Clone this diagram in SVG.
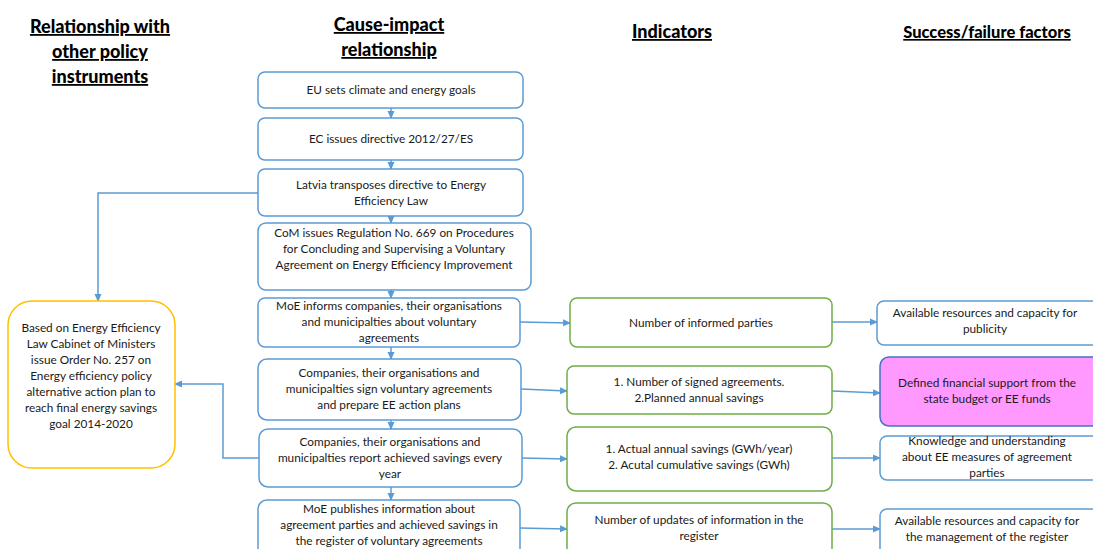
<svg xmlns="http://www.w3.org/2000/svg" width="1093" height="549" viewBox="0 0 1093 549">
  <style>
    .hd { font-family: Lato, "Liberation Sans", sans-serif; font-weight: 900; font-size: 18px; fill: #000; text-anchor: middle; text-decoration: underline; }
    .t { font-family: Lato, "Liberation Sans", sans-serif; font-size: 11.8px; fill: #1a1a1a; text-anchor: middle; }
    .b { fill: #fff; stroke: #5B9BD5; stroke-width: 1.5; }
    .g { fill: #fff; stroke: #70AD47; stroke-width: 1.5; }
    .o { fill: #fff; stroke: #FFC000; stroke-width: 1.5; }
    .p { fill: #FF99FF; stroke: #4472C4; stroke-width: 1.5; }
    .c { fill: none; stroke: #5B9BD5; stroke-width: 1.5; }
  </style>
  <defs>
    <marker id="ah" markerWidth="8" markerHeight="8" refX="7" refY="4" orient="auto" markerUnits="userSpaceOnUse">
      <path d="M0,0.5 L8,4 L0,7.5 Z" fill="#5B9BD5"/>
    </marker>
  </defs>
  <rect width="1093" height="549" fill="#fff"/>

  <!-- column headings -->
  <g id="headings">
    <text class="hd" x="100" y="33">Relationship with</text>
    <text class="hd" x="100" y="58">other policy</text>
    <text class="hd" x="100" y="83">instruments</text>
    <text class="hd" x="389" y="31">Cause-impact</text>
    <text class="hd" x="389" y="56">relationship</text>
    <text class="hd" x="672" y="38">Indicators</text>
    <text class="hd" x="987" y="38" style="font-size:16.5px">Success/failure factors</text>
  </g>

  <!-- connectors -->
  <g id="connectors">
    <line class="c" x1="391" y1="108" x2="391" y2="118" marker-end="url(#ah)"/>
    <line class="c" x1="391" y1="160" x2="391" y2="169" marker-end="url(#ah)"/>
    <line class="c" x1="391" y1="216" x2="391" y2="223" marker-end="url(#ah)"/>
    <line class="c" x1="391" y1="290" x2="391" y2="298" marker-end="url(#ah)"/>
    <line class="c" x1="391" y1="347" x2="391" y2="359" marker-end="url(#ah)"/>
    <line class="c" x1="391" y1="420" x2="391" y2="429" marker-end="url(#ah)"/>
    <line class="c" x1="391" y1="487" x2="391" y2="500" marker-end="url(#ah)"/>
    <polyline class="c" points="258,193 98,193 98,301" marker-end="url(#ah)"/>
    <polyline class="c" points="259,458 223,458 223,384 175,384" marker-end="url(#ah)"/>
    <line class="c" x1="520" y1="322" x2="570" y2="323" marker-end="url(#ah)"/>
    <line class="c" x1="521" y1="389" x2="567" y2="391" marker-end="url(#ah)"/>
    <line class="c" x1="522" y1="458" x2="567" y2="459" marker-end="url(#ah)"/>
    <line class="c" x1="520" y1="528" x2="567" y2="529" marker-end="url(#ah)"/>
    <line class="c" x1="832" y1="322" x2="877" y2="322" marker-end="url(#ah)"/>
    <line class="c" x1="832" y1="391" x2="880" y2="393" marker-end="url(#ah)"/>
    <line class="c" x1="832" y1="458" x2="880" y2="458" marker-end="url(#ah)"/>
    <line class="c" x1="832" y1="529" x2="880" y2="529" marker-end="url(#ah)"/>
  </g>

  <!-- cause-impact chain -->
  <g id="n1">
    <rect class="b" x="258" y="72" width="265" height="36" rx="7"/>
    <text class="t" x="391" y="94">EU sets climate and energy goals</text>
  </g>
  <g id="n2">
    <rect class="b" x="258" y="118" width="265" height="42" rx="7"/>
    <text class="t" x="391" y="143">EC issues directive 2012/27/ES</text>
  </g>
  <g id="n3">
    <rect class="b" x="258" y="169" width="265" height="47" rx="7"/>
    <text class="t" x="391" y="189">Latvia transposes directive to Energy</text>
    <text class="t" x="391" y="205">Efficiency Law</text>
  </g>
  <g id="n4">
    <rect class="b" x="258" y="223" width="273" height="67" rx="8"/>
    <text class="t" x="394" y="237">CoM issues Regulation No. 669 on Procedures</text>
    <text class="t" x="394" y="253">for Concluding and Supervising a Voluntary</text>
    <text class="t" x="394" y="269">Agreement on Energy Efficiency Improvement</text>
  </g>
  <g id="n5">
    <rect class="b" x="258" y="298" width="262" height="49" rx="7"/>
    <text class="t" x="389" y="310">MoE informs companies, their organisations</text>
    <text class="t" x="389" y="326">and municipalties about voluntary</text>
    <text class="t" x="389" y="342">agreements</text>
  </g>
  <g id="n6">
    <rect class="b" x="258" y="359" width="263" height="61" rx="9"/>
    <text class="t" x="389" y="377">Companies, their organisations and</text>
    <text class="t" x="389" y="393">municipalties sign voluntary agreements</text>
    <text class="t" x="389" y="409">and prepare EE action plans</text>
  </g>
  <g id="n7">
    <rect class="b" x="259" y="429" width="263" height="58" rx="9"/>
    <text class="t" x="390" y="446">Companies, their organisations and</text>
    <text class="t" x="390" y="462">municipalties report achieved savings every</text>
    <text class="t" x="390" y="478">year</text>
  </g>
  <g id="n8">
    <rect class="b" x="258" y="500" width="262" height="60" rx="9"/>
    <text class="t" x="389" y="513">MoE publishes information about</text>
    <text class="t" x="389" y="529">agreement parties and achieved savings in</text>
    <text class="t" x="389" y="545">the register of voluntary agreements</text>
  </g>

  <!-- related policy instrument -->
  <g id="policy">
    <rect class="o" x="8" y="301" width="167" height="167" rx="24"/>
    <text class="t" x="91" y="332">Based on Energy Efficiency</text>
    <text class="t" x="91" y="348">Law Cabinet of Ministers</text>
    <text class="t" x="91" y="364">issue Order No. 257 on</text>
    <text class="t" x="91" y="380">Energy efficiency policy</text>
    <text class="t" x="91" y="396">alternative action plan to</text>
    <text class="t" x="91" y="412">reach final energy savings</text>
    <text class="t" x="91" y="428">goal 2014-2020</text>
  </g>

  <!-- indicators -->
  <g id="i1">
    <rect class="g" x="570" y="298" width="262" height="49" rx="7"/>
    <text class="t" x="701" y="327">Number of informed parties</text>
  </g>
  <g id="i2">
    <rect class="g" x="567" y="366" width="265" height="48" rx="7"/>
    <text class="t" x="699" y="386">1. Number of signed agreements.</text>
    <text class="t" x="699" y="402">2.Planned annual savings</text>
  </g>
  <g id="i3">
    <rect class="g" x="567" y="427" width="265" height="64" rx="9"/>
    <text class="t" x="699" y="453">1. Actual annual savings (GWh/year)</text>
    <text class="t" x="699" y="469">2. Acutal cumulative savings (GWh)</text>
  </g>
  <g id="i4">
    <rect class="g" x="567" y="503" width="265" height="60" rx="9"/>
    <text class="t" x="699" y="524">Number of updates of information in the</text>
    <text class="t" x="699" y="540">register</text>
  </g>

  <!-- success / failure factors -->
  <g id="f1">
    <rect class="b" x="877" y="301" width="225" height="44" rx="7"/>
    <text class="t" x="985" y="317">Available resources and capacity for</text>
    <text class="t" x="985" y="333">publicity</text>
  </g>
  <g id="f2">
    <rect class="p" x="880" y="357" width="222" height="69" rx="9"/>
    <text class="t" x="987" y="387">Defined financial support from the</text>
    <text class="t" x="987" y="403">state budget or EE funds</text>
  </g>
  <g id="f3">
    <rect class="b" x="880" y="436" width="222" height="44" rx="7"/>
    <text class="t" x="987" y="445">Knowledge and understanding</text>
    <text class="t" x="987" y="461">about EE measures of agreement</text>
    <text class="t" x="987" y="477">parties</text>
  </g>
  <g id="f4">
    <rect class="b" x="880" y="509" width="222" height="50" rx="7"/>
    <text class="t" x="987" y="525">Available resources and capacity for</text>
    <text class="t" x="987" y="541">the management of the register</text>
  </g>
</svg>
